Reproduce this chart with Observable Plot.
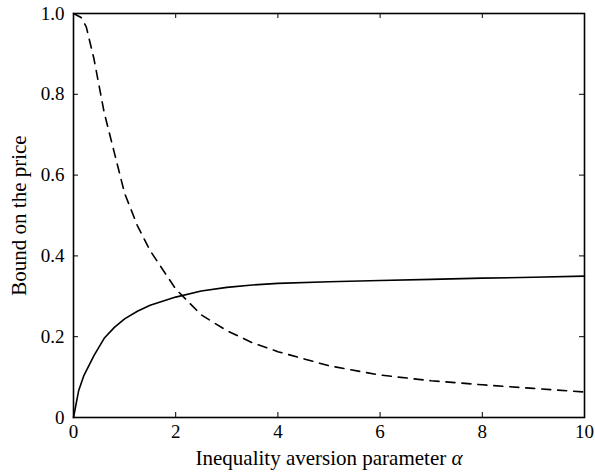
<!DOCTYPE html>
<html>
<head>
<meta charset="utf-8">
<script src="https://cdn.jsdelivr.net/npm/d3@7"></script>
<script src="https://cdn.jsdelivr.net/npm/@observablehq/plot@0.6"></script>
<style>
  html, body { margin: 0; padding: 0; background: #fff; }
</style>
</head>
<body>
<div id="chart"></div>
<script>
// Inequality aversion parameter α (x) and the two bounds (y)
const alphaSolid = [0, 0.1, 0.2, 0.4, 0.6, 0.8, 1.0, 1.25, 1.5, 2, 2.5, 3, 3.5, 4, 5, 6, 7, 8, 9, 10];
const solidBound = [0, 0.066, 0.103, 0.153, 0.196, 0.223, 0.244, 0.263, 0.278, 0.298, 0.313, 0.322, 0.328, 0.332, 0.336, 0.339, 0.342, 0.345, 0.347, 0.350];

const alphaDashed = [0, 0.15, 0.25, 0.4, 0.6, 0.8, 1.0, 1.25, 1.5, 2, 2.5, 3, 3.5, 4, 5, 6, 7, 8, 9, 10];
const dashedBound = [1.0, 0.99, 0.967, 0.888, 0.755, 0.655, 0.555, 0.475, 0.413, 0.318, 0.254, 0.215, 0.185, 0.163, 0.128, 0.105, 0.091, 0.081, 0.072, 0.063];

const xTicks = [0, 2, 4, 6, 8, 10];
const yTicks = [0, 0.2, 0.4, 0.6, 0.8, 1.0];
const xLabel = "Inequality aversion parameter α";
const yLabel = "Bound on the price";

const solid = alphaSolid.map((a, i) => ({alpha: a, v: solidBound[i]}));
const dashed = alphaDashed.map((a, i) => ({alpha: a, v: dashedBound[i]}));

const W = 595, H = 474, mL = 73, mR = 11, mT = 13, mB = 57;
const pw = W - mL - mR, ph = H - mT - mB;
const tick = 5;
const FS = 19;      // tick labels
const LFS = 21;     // axis labels
const FONT = "Liberation Serif";

const chart = Plot.plot({
  width: W,
  height: H,
  marginLeft: mL,
  marginRight: mR,
  marginTop: mT,
  marginBottom: mB,
  x: {domain: [0, 10]},
  y: {domain: [0, 1]},
  style: {fontFamily: FONT, fontSize: FS + "px", background: "#fff", color: "#000"},
  marks: [
    Plot.line(solid, {x: "alpha", y: "v", stroke: "#000", strokeWidth: 1.6}),
    Plot.line(dashed, {x: "alpha", y: "v", stroke: "#000", strokeWidth: 1.6, strokeDasharray: "9,7"}),
    // inward ticks on all four sides
    Plot.tickX(xTicks, {x: d => d, insetTop: ph - tick, stroke: "#000", strokeWidth: 1}),
    Plot.tickX(xTicks, {x: d => d, insetBottom: ph - tick, stroke: "#000", strokeWidth: 1}),
    Plot.tickY(yTicks, {y: d => d, insetRight: pw - tick, stroke: "#000", strokeWidth: 1}),
    Plot.tickY(yTicks, {y: d => d, insetLeft: pw - tick, stroke: "#000", strokeWidth: 1}),
    Plot.axisX(xTicks, {tickSize: 0, tickPadding: 7, label: null, tickFormat: d => String(d), fontSize: FS}),
    Plot.axisY(yTicks, {tickSize: 0, tickPadding: 9, label: null, tickFormat: d => d === 0 ? "0" : d.toFixed(1), fontSize: FS}),
    Plot.frame({stroke: "#000", strokeWidth: 1.6}),
    Plot.text([xLabel], {frameAnchor: "bottom", dy: 41, textAnchor: "middle", lineAnchor: "middle", text: d => d, fontSize: LFS}),
    Plot.text([yLabel], {frameAnchor: "left", dx: -54, rotate: -90, textAnchor: "middle", lineAnchor: "middle", text: d => d, fontSize: LFS})
  ]
});

// font on every text + italicize the Greek letter alpha in the x label
chart.querySelectorAll("g, text").forEach(el => el.setAttribute("font-family", FONT));
chart.querySelectorAll("text").forEach(t => {
  const s = t.textContent;
  if (s.endsWith("α") && s.length > 1) {
    t.textContent = s.slice(0, -1);
    const ts = document.createElementNS("http://www.w3.org/2000/svg", "tspan");
    ts.setAttribute("font-style", "italic");
    ts.textContent = "α";
    t.appendChild(ts);
  }
});

document.getElementById("chart").appendChild(chart);
</script>
</body>
</html>
